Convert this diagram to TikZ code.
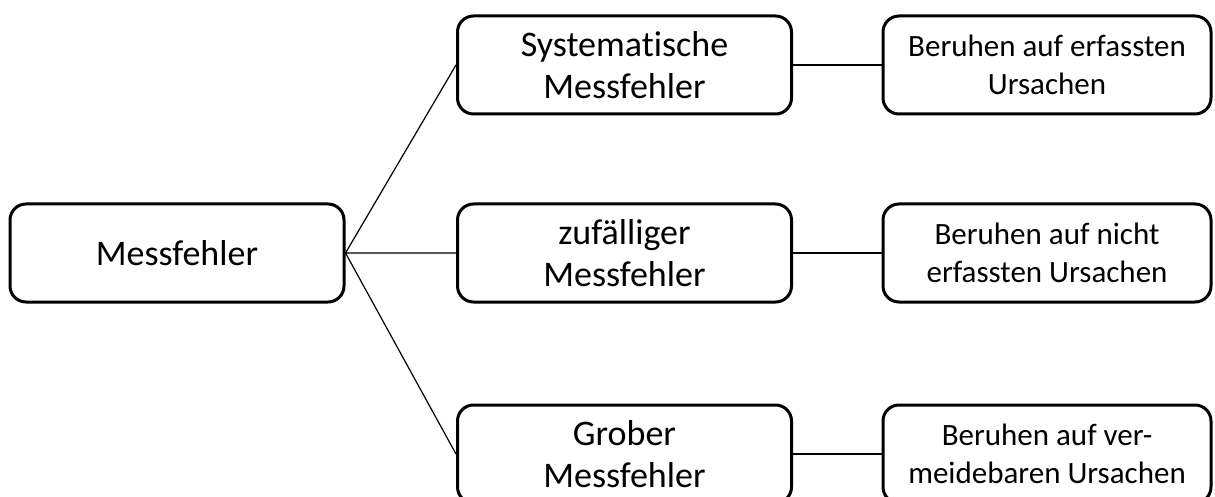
\documentclass[tikz,border=0pt]{standalone}
\usepackage{fontspec}
\setmainfont{Carlito}[Ligatures=CommonOff]
\usetikzlibrary{positioning}
\tikzset{errbox/.style={draw,rounded corners=8pt,line width=1.5pt,align=center,
    minimum width=167pt,minimum height=49pt,inner sep=0pt,
    font=\fontsize{18}{21}\selectfont}}
\tikzset{causebox/.style={errbox,minimum width=164pt,
    font=\fontsize{15.5}{19}\selectfont}}
\tikzset{link/.style={line width=0.6pt}}

\begin{document}
\begin{tikzpicture}[x=0.5pt,y=-0.5pt]
    \useasboundingbox (0,0) rectangle (1215,497);
    \clip (0,0) rectangle (1215,497);

    \node[errbox] (mf) at (177,253) {Messfehler};

    \node[errbox] (sys) at (624.5,65)  {Systematische\\Messfehler};
    \node[errbox] (zuf) at (624.5,253) {zufälliger\\Messfehler};
    \node[errbox] (grob) at (624.5,454) {Grober\\Messfehler};

    \node[causebox] (usys) at (1047,65)  {Beruhen auf erfassten\\Ursachen};
    \node[causebox] (uzuf) at (1047,253) {Beruhen auf nicht\\erfassten Ursachen};
    \node[causebox] (ugrob) at (1047,454) {Beruhen auf ver-\\meidebaren Ursachen};

    \draw[link] (mf.east) -- (sys.west)
                (mf.east) -- (zuf.west)
                (mf.east) -- (grob.west);

    \draw[link] (sys.east) -- (usys.west)
                (zuf.east) -- (uzuf.west)
                (grob.east) -- (ugrob.west);
\end{tikzpicture}
\end{document}
